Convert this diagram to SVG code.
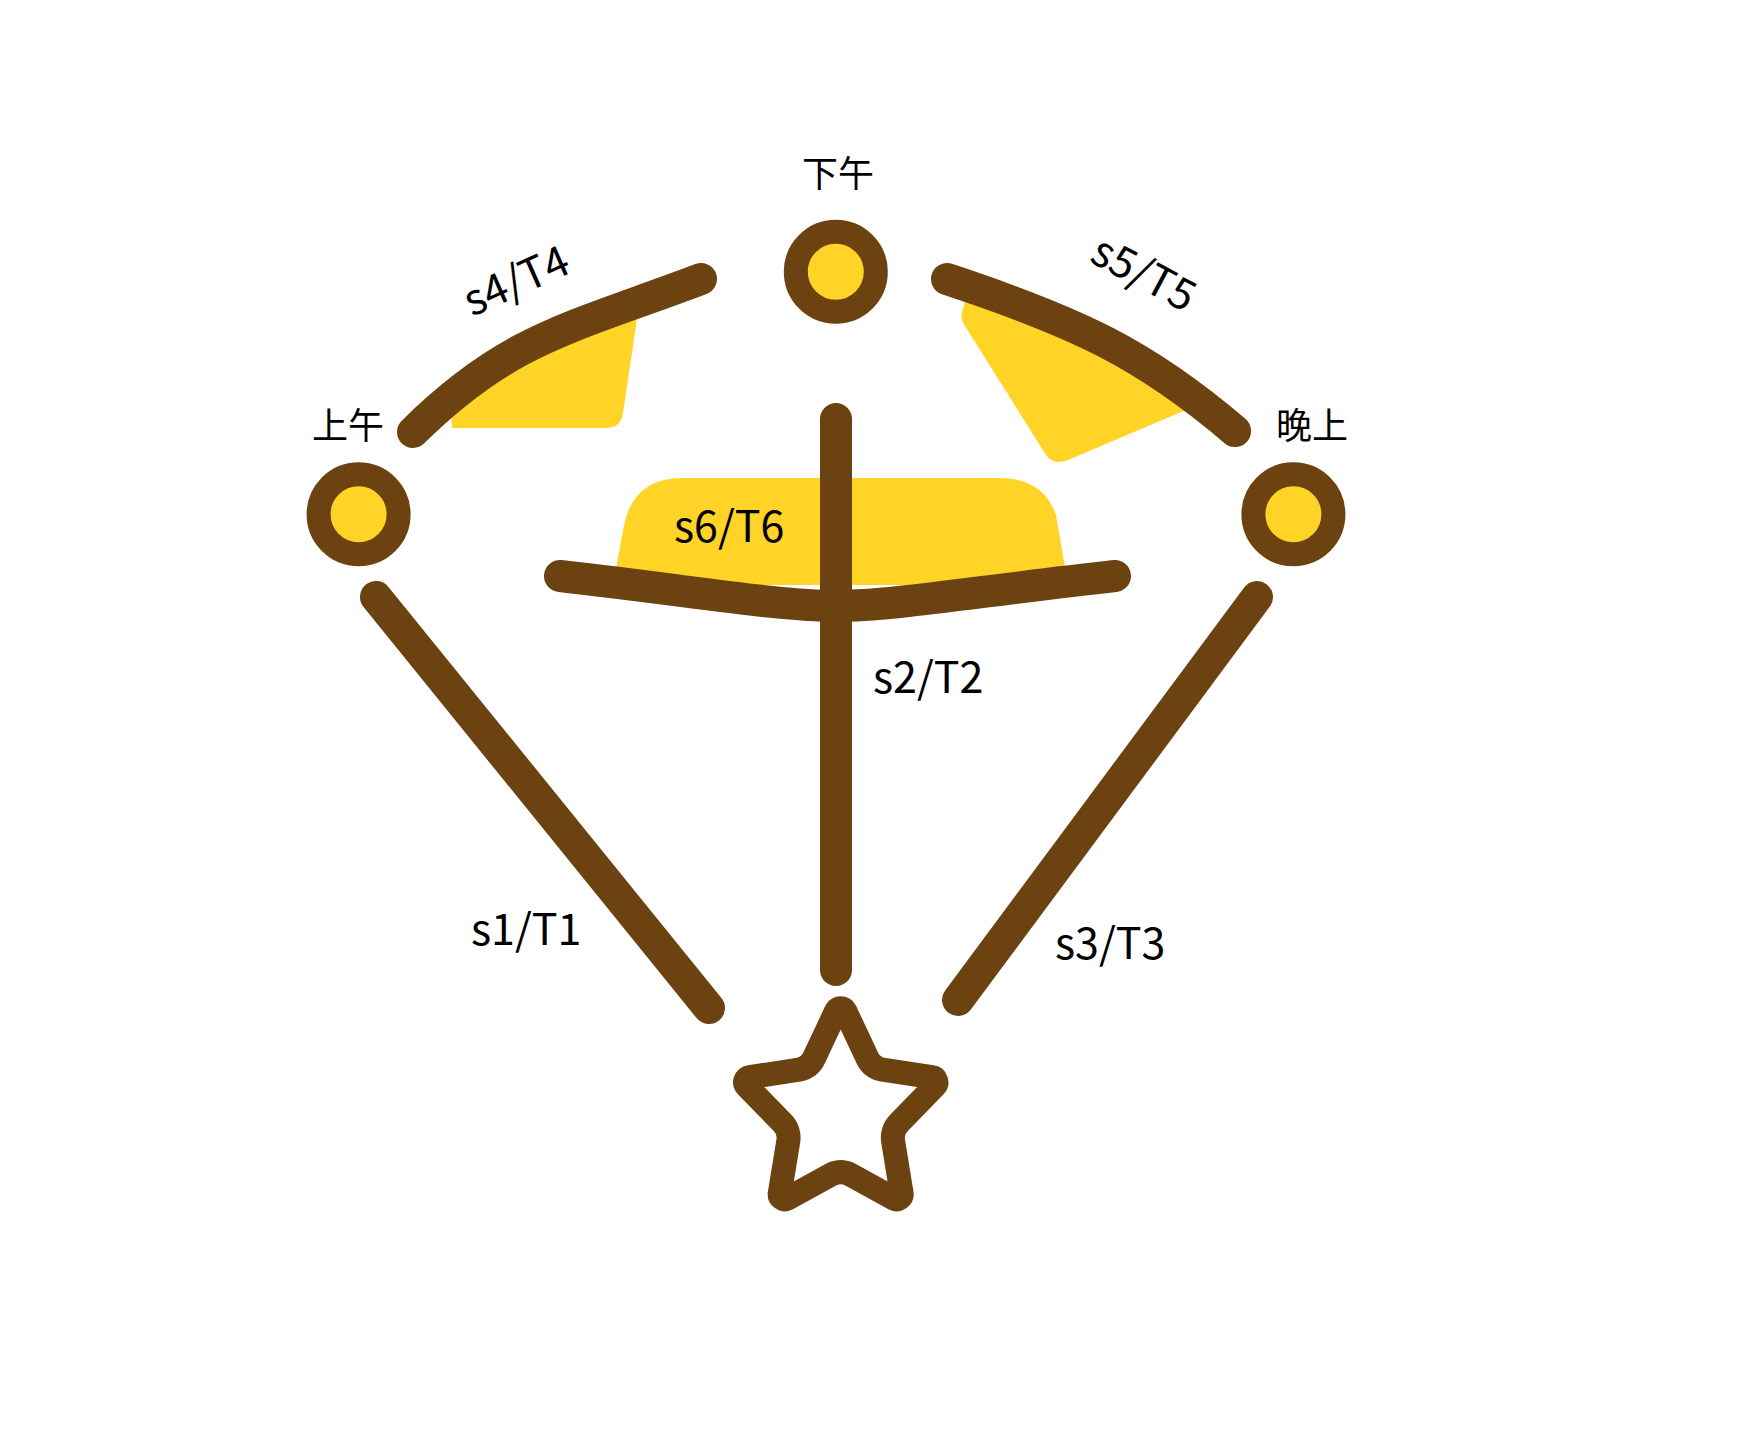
<svg xmlns="http://www.w3.org/2000/svg" width="1754" height="1430" viewBox="0 0 1754 1430">
<defs>
<style>
.edge{fill:none;stroke:#6B4210;stroke-width:32;stroke-linecap:round;stroke-linejoin:round}
.bg{fill:#FFD426}
.node{fill:#FFD426;stroke:#6B4210;stroke-width:24}
.lbl{font-family:"Noto Sans CJK SC","Noto Sans",sans-serif;font-size:43px;fill:#000}
.nl{font-family:"Noto Sans CJK SC","Noto Sans",sans-serif;font-size:36px;fill:#000;text-anchor:middle}
</style>
</defs>
<rect width="1754" height="1430" fill="#fff"/>
<g id="connectors">
<path class="bg" d="M452,428 L606,428 Q621,428 623,413 L639,305 L560,322 L450,395 Z"/>
<path class="bg" d="M966,298 L962,312 Q960,319 965,326 L1046,455 Q1054,466 1068,460 L1186,410 L1100,335 Z"/>
<path class="bg" d="M613,585 L624,525 Q634,478 682,478 L1000,478 Q1043,478 1056,515 L1068,585 Z"/>
<path id="e1" class="edge" d="M376,597 L709,1008"/>
<path id="e2" class="edge" d="M836,419 L836,970"/>
<path id="e3" class="edge" d="M1257,597 L958,1000"/>
<path id="e4" class="edge" d="M413,432 C508,338 571,328 701,279"/>
<path id="e5" class="edge" d="M947,279 C1077,322 1145,354 1235,431"/>
<path id="e6" class="edge" d="M560,576 C700,592 780,606 836,606 C892,606 972,592 1115,576"/>
<text class="lbl" x="471" y="945">s1/T1</text>
<text class="lbl" x="873" y="693">s2/T2</text>
<text class="lbl" x="1055" y="959">s3/T3</text>
<text class="lbl" transform="translate(472,317) rotate(-24)">s4/T4</text>
<text class="lbl" transform="translate(1088,261) rotate(28)">s5/T5</text>
<text class="lbl" x="674" y="542">s6/T6</text>
</g>
<g id="node-morning">
<circle class="node" cx="358.6" cy="514.3" r="40"/>
<text class="nl" x="348" y="439">上午</text>
</g>
<g id="node-afternoon">
<circle class="node" cx="835.8" cy="271.7" r="40"/>
<text class="nl" x="838" y="187">下午</text>
</g>
<g id="node-evening">
<circle class="node" cx="1293.4" cy="514.3" r="40"/>
<text class="nl" x="1312" y="439">晚上</text>
</g>
<g id="node-star">
<path fill="#fff" stroke="#6B4210" stroke-width="24" stroke-linejoin="round" stroke-linecap="round" d="M836.2,1010.9 A5.2,5.2 0 0 1 845.2,1010.9 L867.3,1057.9 A20.8,20.8 0 0 0 882.5,1069.6 L931.9,1077.2 A5.2,5.2 0 0 1 934.7,1086.2 L899,1122.8 A20.8,20.8 0 0 0 893.2,1141.6 L901.6,1193.2 A5.2,5.2 0 0 1 894.2,1198.8 L850.1,1174.5 A20.8,20.8 0 0 0 831.3,1174.5 L787.2,1198.8 A5.2,5.2 0 0 1 779.8,1193.2 L788.2,1141.6 A20.8,20.8 0 0 0 782.4,1122.8 L746.7,1086.2 A5.2,5.2 0 0 1 749.5,1077.2 L798.9,1069.6 A20.8,20.8 0 0 0 814.1,1057.9 Z"/>
</g>
</svg>
